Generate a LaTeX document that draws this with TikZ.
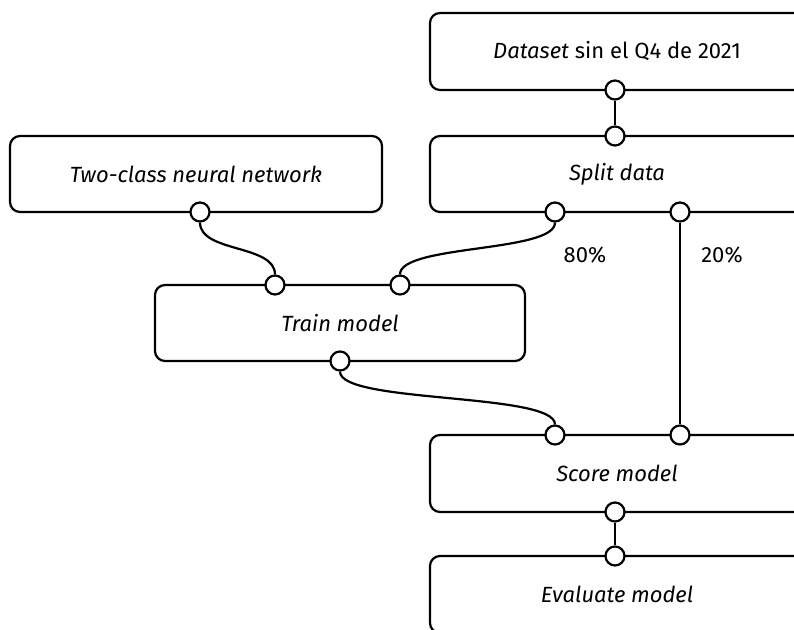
\documentclass[tikz,border=0pt]{standalone}
\usepackage{fontspec}
\setmainfont{Fira Sans}
\begin{document}
\begin{tikzpicture}[x=1pt,y=-1pt,
  box/.style={draw,line width=2.2pt,rounded corners=10pt,inner sep=0pt,
    font=\fontsize{22}{26}\selectfont\itshape},
  port/.style={circle,draw,line width=2.2pt,fill=white,minimum size=19pt,inner sep=0pt},
  wire/.style={line width=2.2pt},
  pct/.style={font=\fontsize{22}{26}\selectfont}]
\useasboundingbox (0,0) rectangle (794,629);
\clip (0,0) rectangle (794,629);
% boxes
\node[box,minimum width=374pt,minimum height=77pt] (ds) at (617,51.5) {\textit{Dataset}\upshape{} sin el Q4 de 2021};
\node[box,minimum width=374pt,minimum height=76pt] (split) at (617,174) {Split data};
\node[box,minimum width=372pt,minimum height=76pt] (two) at (196,174) {Two-class neural network};
\node[box,minimum width=370pt,minimum height=76pt] (train) at (340,323) {Train model};
\node[box,minimum width=374pt,minimum height=77pt] (score) at (617,473.5) {Score model};
\node[box,minimum width=374pt,minimum height=77pt] (eval) at (617,594.5) {Evaluate model};
% ports
\node[port] (dsb) at (615,90) {};
\node[port] (splitt) at (615,136) {};
\node[port] (splitl) at (555,212) {};
\node[port] (splitr) at (680,212) {};
\node[port] (twob) at (200,212) {};
\node[port] (trainl) at (275,285) {};
\node[port] (trainr) at (400,285) {};
\node[port] (trainb) at (340,361) {};
\node[port] (scorel) at (555,435) {};
\node[port] (scorer) at (680,435) {};
\node[port] (scoreb) at (615,512) {};
\node[port] (evalt) at (615,556) {};
% wires
\draw[wire] (dsb) -- (splitt);
\draw[wire] (twob.south) .. controls +(0,30) and +(0,-30) .. (trainl.north);
\draw[wire] (splitl.south) .. controls +(0,30) and +(0,-30) .. (trainr.north);
\draw[wire] (trainb.south) .. controls +(0,32) and +(0,-32) .. (scorel.north);
\draw[wire] (splitr) -- (scorer);
\draw[wire] (scoreb) -- (evalt);
% labels
\node[pct] (p80) at (585,255) {80\%};
\node[pct] (p20) at (722,255) {20\%};
\end{tikzpicture}
\end{document}
